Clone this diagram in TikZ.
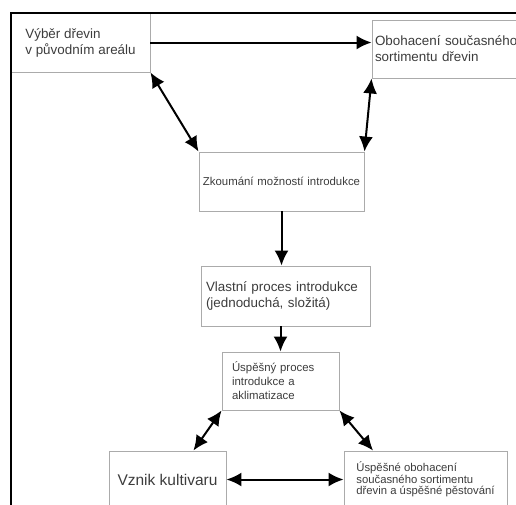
\documentclass[tikz,border=0pt]{standalone}
\usepackage{fontspec}
\setmainfont{Liberation Sans}
\usetikzlibrary{arrows.meta,calc}
\definecolor{boxgray}{HTML}{ABABAB}
\definecolor{txtgray}{HTML}{3C3C3C}
\begin{document}
\begin{tikzpicture}[x=1pt, y=-1pt,
  every node/.style={text=txtgray},
  box/.style={draw=boxgray, line width=0.9pt, inner ysep=0pt, align=left},
  big/.style={font=\fontsize{13.4}{16}\selectfont},
  small/.style={font=\fontsize{11.4}{14}\selectfont},
  link/.style={line width=2pt, -{Latex[length=15pt,width=14pt]}},
  both/.style={line width=2pt, {Latex[length=15pt,width=14pt]}-{Latex[length=15pt,width=14pt]}}]
  \useasboundingbox (0,0) rectangle (516,504);
  \clip (0,0) rectangle (516,504);
  % top row
  \node[box, big, minimum width=139pt, minimum height=59pt]
    (vyber) at (80.5,42.5) {Výběr dřevin\\v původním areálu};
  \node[box, big, minimum width=156pt, minimum height=58pt, inner xsep=3pt, text width=150pt]
    (soucasny) at (450,49) {Obohacení současného\\sortimentu dřevin};
  % middle column
  \node[box, small, minimum width=165pt, minimum height=59pt, inner xsep=0pt, text width=165pt, align=center]
    (zkoumani) at (281.5,181.5) {Zkoumání možností introdukce};
  \node[box, big, minimum width=169pt, minimum height=60pt, inner xsep=5pt, text width=159pt]
    (proces) at (285.5,296) {Vlastní proces introdukce\\(jednoduchá, složitá)};
  \node[box, small, minimum width=117pt, minimum height=58pt, inner xsep=10pt, text width=97pt]
    (uspech) at (280.5,381) {Úspěšný proces\\introdukce a\\aklimatizace};
  % bottom row
  \node[box, font=\fontsize{15.5}{18}\selectfont, minimum width=117pt, minimum height=57pt]
    (kultivar) at (167.5,479.5) {Vznik kultivaru};
  \node[box, font=\fontsize{11.3}{11.6}\selectfont, minimum width=163pt, minimum height=57pt]
    (pestovani) at (425.5,479.5) {Úspěšné obohacení\\současného sortimentu\\dřevin a úspěšné pěstování};
  % frame
  \draw[line width=2.4pt] (11,510) -- (11,13) -- (520,13);
  % arrows
  \draw[link] (vyber.east) -- (vyber.east -| soucasny.west);
  \draw[both] (vyber.south east) -- (zkoumani.north west);
  \draw[both] (soucasny.south west) -- (zkoumani.north east);
  \draw[link] (zkoumani.south) -- (zkoumani.south |- proces.north);
  \draw[link] (proces.south -| uspech.north) -- (uspech.north);
  \draw[both] (uspech.south west) -- ($(kultivar.north west)!0.72!(kultivar.north east)$);
  \draw[both] (uspech.south east) -- ($(pestovani.north west)!0.18!(pestovani.north east)$);
  \draw[both] (kultivar.east) -- (pestovani.west);
\end{tikzpicture}
\end{document}
